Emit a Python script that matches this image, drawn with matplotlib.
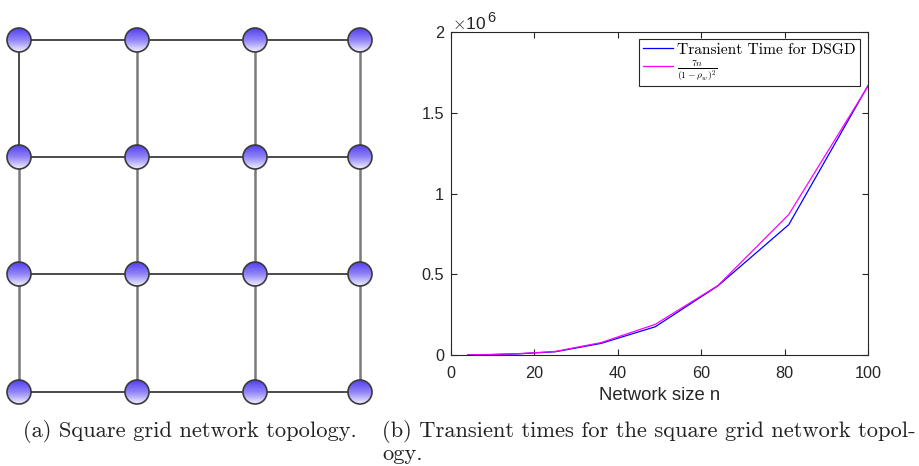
import numpy as np
import matplotlib
matplotlib.use("Agg")
import matplotlib.pyplot as plt
from matplotlib.patches import Circle
from matplotlib.colors import LinearSegmentedColormap
from matplotlib.ticker import FuncFormatter

# ---- data ----
network_size = [4, 9, 16, 25, 36, 49, 64, 81, 100]
dsgd_transient = [0.0005e6, 0.002e6, 0.007e6, 0.020e6, 0.072e6, 0.175e6, 0.428e6, 0.807e6, 1.668e6]
bound_7n = [0.0008e6, 0.003e6, 0.008e6, 0.022e6, 0.077e6, 0.190e6, 0.430e6, 0.870e6, 1.665e6]
x_ticks = [0, 20, 40, 60, 80, 100]
y_ticks = [0, 0.5e6, 1.0e6, 1.5e6, 2.0e6]
grid_cols_px = [19, 137, 255, 360]
grid_rows_px = [40, 157, 274, 392]

plt.rcParams['mathtext.fontset'] = 'cm'

fig = plt.figure(figsize=(9.2, 4.66), dpi=100)

# ---- left panel: grid topology drawn in pixel coordinates ----
ax0 = fig.add_axes([0, 0, 1, 1])
ax0.set_xlim(0, 920)
ax0.set_ylim(466, 0)
ax0.axis('off')

for y in grid_rows_px:
    ax0.plot([grid_cols_px[0], grid_cols_px[-1]], [y, y], color='#1a1a1a', lw=1.1, zorder=1,
             solid_capstyle='butt')
for ci, x in enumerate(grid_cols_px):
    for ri in range(len(grid_rows_px) - 1):
        first = (ci == 0 and ri == 0)
        ax0.plot([x, x], [grid_rows_px[ri], grid_rows_px[ri + 1]],
                 color='#1a1a1a' if first else '#7a7a7a', lw=1.1 if first else 1.8,
                 zorder=1, solid_capstyle='butt')

cmap = LinearSegmentedColormap.from_list('node', ['#5440f0', '#9184f7', '#f2f0ff'])
grad = np.linspace(0, 1, 64).reshape(-1, 1)
r = 12
for y in grid_rows_px:
    for x in grid_cols_px:
        circ = Circle((x, y), r, facecolor='none', edgecolor='#3a3a3a', lw=1.2, zorder=4)
        im = ax0.imshow(grad, cmap=cmap, extent=[x - r, x + r, y + r, y - r],
                        aspect='auto', zorder=3, interpolation='bilinear')
        im.set_clip_path(Circle((x, y), r, transform=ax0.transData))
        ax0.add_patch(circ)
ax0.set_xlim(0, 920)
ax0.set_ylim(466, 0)

cap_font = dict(family='cmr10', fontsize=16.2, color='#222222')
ax0.text(23, 437, '(a) Square grid network topology.', va='baseline', ha='left', **cap_font)
ax0.text(382, 437, '(b) Transient times for the square grid network topol-', va='baseline',
         ha='left', **cap_font)
ax0.text(382, 460, 'ogy.', va='baseline', ha='left', **cap_font)

# ---- right panel: line chart ----
ax = fig.add_axes([451 / 920, 1 - 355 / 466, (868 - 451) / 920, (355 - 32) / 466])
ax.plot(network_size, dsgd_transient, color='#0000ff', lw=0.9,
        label='Transient Time for DSGD')
ax.plot(network_size, bound_7n, color='#ff00ff', lw=0.9,
        label=r'$\frac{7n}{(1-\rho_w)^2}$')
ax.set_xlim(0, 100)
ax.set_ylim(0, 2e6)
ax.set_xticks(x_ticks)
ax.set_yticks(y_ticks)
ax.yaxis.set_major_formatter(FuncFormatter(lambda v, p: '%g' % (v / 1e6)))
ax.tick_params(direction='in', top=True, right=True, length=4, width=0.8,
               labelsize=11.7, colors='#262626', pad=5)
ax.tick_params(axis='x', pad=8)
for lab in ax.get_xticklabels() + ax.get_yticklabels():
    lab.set_family('Liberation Sans')
for sp in ax.spines.values():
    sp.set_color('#262626')
    sp.set_linewidth(0.8)
ax.set_xlabel('Network size n', family='Liberation Sans', fontsize=13.3, color='#262626',
              labelpad=4)
# offset multiplier text
t_mul = fig.text(452 / 920, 1 - 29 / 466, r'$\times$10', ha='left', va='baseline',
                 family='Liberation Sans', fontsize=12.5, color='#262626')
fig.canvas.draw()
bb = t_mul.get_window_extent(renderer=fig.canvas.get_renderer())
fig.text(bb.x1 / fig.bbox.width + 0.001, 1 - 22 / 466, '6', ha='left', va='baseline',
         family='Liberation Sans', fontsize=10.5, color='#262626')

leg = ax.legend(loc='upper right', bbox_to_anchor=(0.98, 0.978), fancybox=False,
                edgecolor='#262626', framealpha=1, handlelength=1.9, handletextpad=0.3,
                borderpad=0.25, labelspacing=0.1, borderaxespad=0,
                prop={'family': 'cmr10', 'size': 11.1})
leg.get_frame().set_linewidth(0.8)
leg.get_texts()[1].set_fontsize(10)

fig.savefig('out.png', dpi=100)
